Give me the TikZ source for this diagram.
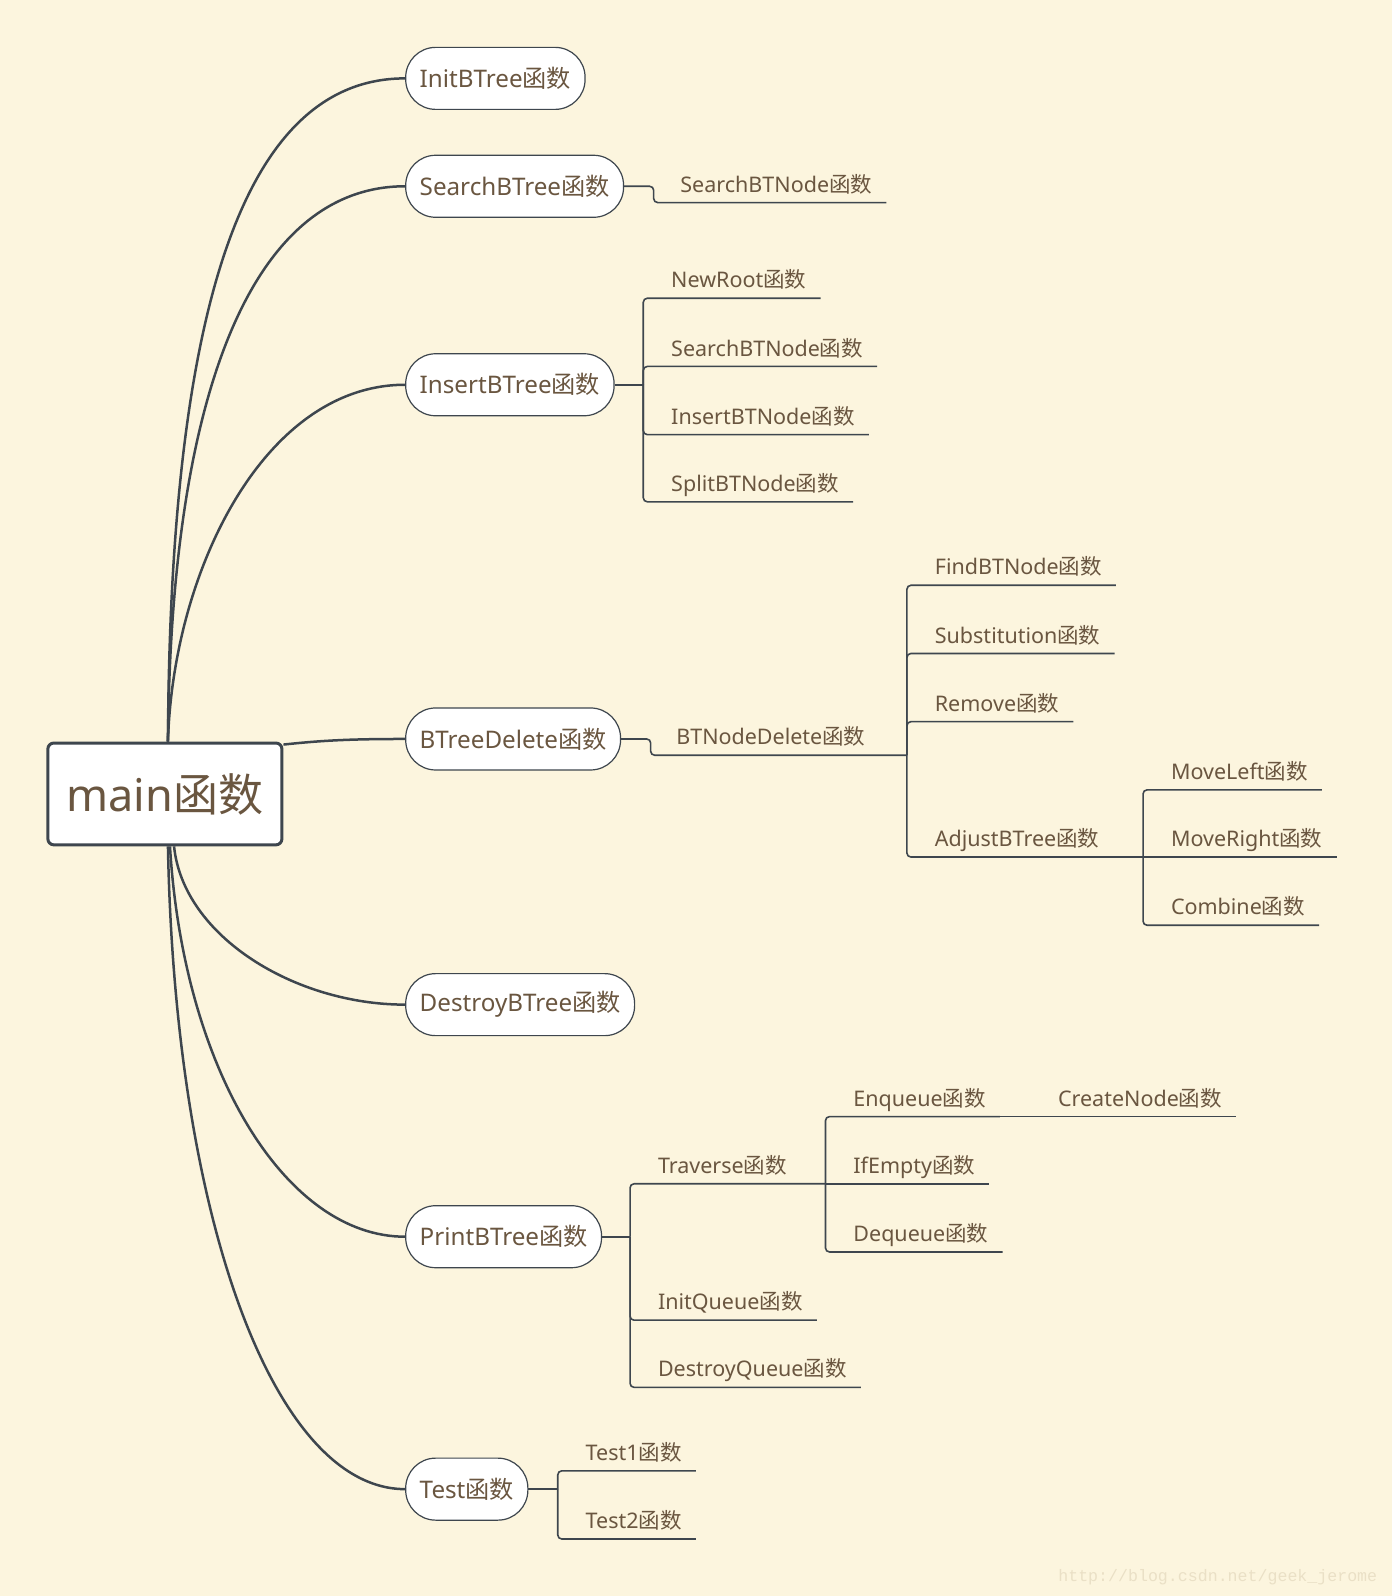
\documentclass[tikz,border=0pt]{standalone}
\usepackage{fontspec}
\setmainfont{Noto Sans}
\newfontfamily\cjk{Noto Sans CJK SC}
\setmonofont{Liberation Mono}
\usetikzlibrary{calc}
\definecolor{paper}{RGB}{252,245,222}
\definecolor{ink}{RGB}{106,86,64}
\definecolor{wire}{RGB}{62,70,78}
\definecolor{mark}{RGB}{234,224,198}
\newcommand\hanshu{{\cjk 函数}}

\begin{document}
\begin{tikzpicture}[x=0.50877pt, y=-0.50877pt,
  root/.style={draw=wire, line width=1.5pt, fill=white, rounded corners=3pt, minimum width=117pt, minimum height=50.9pt, font=\fontsize{22.5}{27}\selectfont, text=ink},
  topic/.style={draw=wire, line width=0.6pt, fill=white, rounded corners=15pt, minimum height=31pt, inner xsep=7pt, anchor=west, font=\fontsize{12.1}{14}\selectfont, text=ink},
  leaf/.style={anchor=south west, inner xsep=6.9pt, inner ysep=5pt, text depth=0pt, font=\fontsize{10.75}{13}\selectfont, text=ink},
  curve/.style={draw=wire, line width=1.25pt},
  elbow/.style={draw=wire, line width=0.8pt, rounded corners=2pt}]

\fill[paper] (0,0) rectangle (1368,1568);

% root and first level
\node[root] (main) at (162,780) {main\hanshu};
\node[topic] (init) at (398,77) {InitBTree\hanshu};
\node[topic] (search) at (398,183) {SearchBTree\hanshu};
\node[topic] (insert) at (398,378) {InsertBTree\hanshu};
\node[topic] (delete) at (398,726) {BTreeDelete\hanshu};
\node[topic] (destroy) at (398,987) {DestroyBTree\hanshu};
\node[topic] (print) at (398,1215) {PrintBTree\hanshu};
\node[topic] (test) at (398,1463) {Test\hanshu};

\draw[curve] ($(main.north)+(3,0)$) .. controls (167,300) and (240,77) .. (init.west);
\draw[curve] ($(main.north)+(3,0)$) .. controls (168,380) and (250,183) .. (search.west);
\draw[curve] ($(main.north)+(3,0)$) .. controls (170,560) and (260,378) .. (insert.west);
\draw[curve] ($(main.north east)+(0,3)$) .. controls (320,727) and (350,726) .. (delete.west);
\draw[curve] ($(main.south)+(9,0)$) .. controls (180,920) and (290,987) .. (destroy.west);
\draw[curve] ($(main.south)+(5,0)$) .. controls (180,1050) and (280,1215) .. (print.west);
\draw[curve] ($(main.south)+(3,0)$) .. controls (172,1200) and (270,1463) .. (test.west);

% SearchBTree
\node[leaf] (searchnode) at (654.5,199) {SearchBTNode\hanshu};
\draw[elbow] (search.east) -- ++(29,0) |- (searchnode.south east);

% InsertBTree
\coordinate (insert-b) at (632,378);
\node[leaf] (newroot) at (645.5,293) {NewRoot\hanshu};
\node[leaf] (inssearch) at (645.5,360) {SearchBTNode\hanshu};
\node[leaf] (insnode) at (645.5,427) {InsertBTNode\hanshu};
\node[leaf] (split) at (645.5,493) {SplitBTNode\hanshu};
\draw[elbow] (insert.east) -- (insert-b);
\draw[elbow] (insert-b) |- (newroot.south east);
\draw[elbow] (insert-b) |- (inssearch.south east);
\draw[elbow] (insert-b) |- (insnode.south east);
\draw[elbow] (insert-b) |- (split.south east);

% BTreeDelete
\coordinate (delete-b) at (891,742);
\coordinate (adjust-b) at (1123,842);
\node[leaf] (btdel) at (650.5,742) {BTNodeDelete\hanshu};
\node[leaf] (find) at (904.5,575) {FindBTNode\hanshu};
\node[leaf] (subst) at (904.5,642) {Substitution\hanshu};
\node[leaf] (remove) at (904.5,709) {Remove\hanshu};
\node[leaf] (adjust) at (904.5,842) {AdjustBTree\hanshu};
\node[leaf] (moveleft) at (1136.5,776) {MoveLeft\hanshu};
\node[leaf] (moveright) at (1136.5,842) {MoveRight\hanshu};
\node[leaf] (combine) at (1136.5,909) {Combine\hanshu};
\draw[elbow] (delete.east) -- ++(29,0) |- (delete-b);
\draw[elbow] (delete-b) |- (find.south east);
\draw[elbow] (delete-b) |- (subst.south east);
\draw[elbow] (delete-b) |- (remove.south east);
\draw[elbow] (delete-b) |- (adjust-b);
\draw[elbow] (adjust-b) |- (moveleft.south east);
\draw[elbow] (adjust-b) -- (moveright.south east);
\draw[elbow] (adjust-b) |- (combine.south east);

% PrintBTree
\coordinate (print-b) at (619,1215);
\coordinate (traverse-b) at (811,1163);
\node[leaf] (traverse) at (632.5,1163) {Traverse\hanshu};
\node[leaf] (initq) at (632.5,1297) {InitQueue\hanshu};
\node[leaf] (destroyq) at (632.5,1363) {DestroyQueue\hanshu};
\node[leaf] (enqueue) at (824.5,1097) {Enqueue\hanshu};
\node[leaf] (ifempty) at (824.5,1163) {IfEmpty\hanshu};
\node[leaf] (dequeue) at (824.5,1230) {Dequeue\hanshu};
\node[leaf] (createnode) at (1025.5,1097) {CreateNode\hanshu};
\draw[elbow] (print.east) -- (print-b);
\draw[elbow] (print-b) |- (traverse-b);
\draw[elbow] (print-b) |- (initq.south east);
\draw[elbow] (print-b) |- (destroyq.south east);
\draw[elbow] (traverse-b) |- (enqueue.south east);
\draw[elbow] (traverse-b) -- (ifempty.south east);
\draw[elbow] (traverse-b) |- (dequeue.south east);
\draw[elbow] (enqueue.south east) -- (createnode.south east);

% Test
\coordinate (test-b) at (548,1463);
\node[leaf] (test1) at (561.5,1445) {Test1\hanshu};
\node[leaf] (test2) at (561.5,1512) {Test2\hanshu};
\draw[elbow] (test.east) -- (test-b);
\draw[elbow] (test-b) |- (test1.south east);
\draw[elbow] (test-b) |- (test2.south east);

\node[anchor=base east, font=\ttfamily\fontsize{8.3}{10}\selectfont, text=mark] (url) at (1360,1554) {http://blog.csdn.net/geek\_jerome};
\end{tikzpicture}
\end{document}
